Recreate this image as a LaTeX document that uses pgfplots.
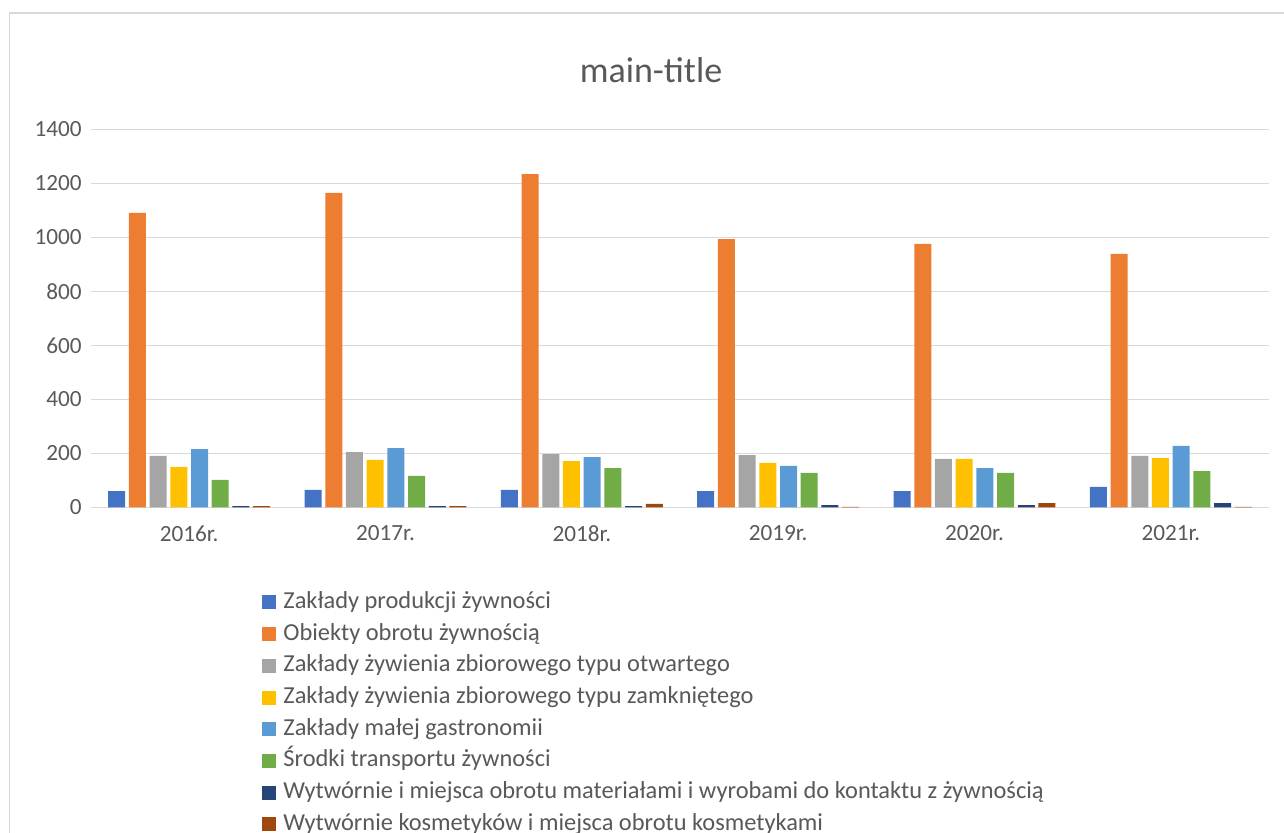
\documentclass[border=0pt]{standalone}
\usepackage{pgfplots}
\pgfplotsset{compat=1.18}
\usepackage{fontspec}
\setmainfont{Carlito}

\definecolor{c1}{HTML}{4472C4}
\definecolor{c2}{HTML}{ED7D31}
\definecolor{c3}{HTML}{A5A5A5}
\definecolor{c4}{HTML}{FFC000}
\definecolor{c5}{HTML}{5B9BD5}
\definecolor{c6}{HTML}{70AD47}
\definecolor{c7}{HTML}{264478}
\definecolor{c8}{HTML}{9E480E}
\definecolor{gridc}{HTML}{D9D9D9}
\definecolor{txt}{HTML}{595959}

\begin{document}
\begin{tikzpicture}
\useasboundingbox (0,0) rectangle (642pt,416.5pt);
\draw[gridc, line width=0.75pt] (4.75pt,-20pt) -- (4.75pt,410pt) -- (700pt,410pt);
\node[font=\fontsize{18}{21}\selectfont, text=txt] at (325.5pt,381.5pt) {main-title};

\begin{axis}[%
at={(45.5pt,162.75pt)},
anchor=south west,
width=589pt,
height=189pt,
scale only axis,
ybar=1.85pt,
bar width=8.5pt,
xmin=-0.5,
xmax=5.5,
ymin=0,
ymax=1400,
xtick=data,
xticklabels={2016r.,2017r.,2018r.,2019r.,2020r.,2021r.},
ytick={0,200,...,1400},
ymajorgrids,
major grid style={gridc, line width=0.9pt},
axis line style={draw=none},
major tick length=0pt,
tick label style={font=\fontsize{11.6}{13}\selectfont, text=txt},
yticklabel style={inner sep=0pt, xshift=-4.5pt},
xticklabel style={inner sep=0pt, yshift=-9pt},
/pgf/number format/assume math mode=true,
/pgf/number format/1000 sep={},
every axis plot post/.append style={legend image code/.code={\fill[##1] (0pt,-3.5pt) rectangle (7pt,3.5pt);}},
legend cell align=left,
legend style={at={(0.1452,-0.2183)}, anchor=north west, draw=none, inner sep=0pt,
  font=\fontsize{12.2}{14}\selectfont, text=txt, row sep=3.85pt,
  nodes={inner sep=0pt, text height=9pt, text depth=3pt},
  /tikz/every odd column/.append style={column sep=3.5pt}},
]

\addplot[fill=c1, draw=none] coordinates {(0,61) (1,65) (2,65) (3,61) (4,61) (5,76)};
\addplot[fill=c2, draw=none] coordinates {(0,1091) (1,1165) (2,1235) (3,994) (4,976) (5,939)};
\addplot[fill=c3, draw=none] coordinates {(0,191) (1,205) (2,198) (3,194) (4,180) (5,191)};
\addplot[fill=c4, draw=none] coordinates {(0,150) (1,176) (2,172) (3,165) (4,180) (5,183)};
\addplot[fill=c5, draw=none] coordinates {(0,216) (1,220) (2,187) (3,154) (4,146) (5,228)};
\addplot[fill=c6, draw=none] coordinates {(0,102) (1,117) (2,146) (3,128) (4,128) (5,135)};
\addplot[fill=c7, draw=none] coordinates {(0,5) (1,5) (2,5) (3,9) (4,9) (5,16)};
\addplot[fill=c8, draw=none] coordinates {(0,5) (1,5) (2,13) (3,2) (4,16) (5,2)};

\legend{Zakłady produkcji żywności,
Obiekty obrotu żywnością,
Zakłady żywienia zbiorowego typu otwartego,
Zakłady żywienia zbiorowego typu zamkniętego,
Zakłady małej gastronomii,
Środki transportu żywności,
Wytwórnie i miejsca obrotu materiałami i wyrobami do kontaktu z żywnością,
Wytwórnie kosmetyków i miejsca obrotu kosmetykami}
\end{axis}
\end{tikzpicture}
\end{document}
